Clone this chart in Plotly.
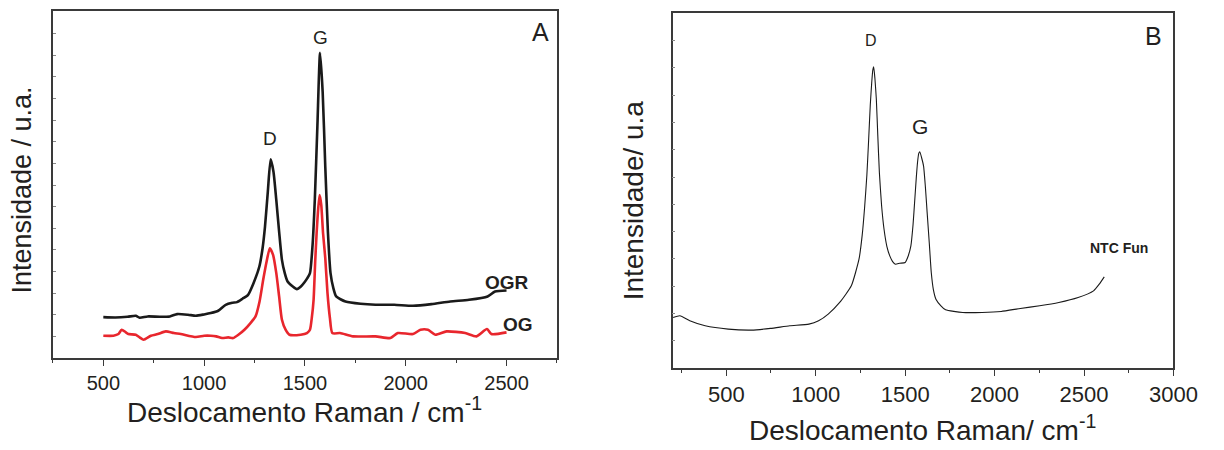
import plotly.graph_objects as go

# ---------------- Panel A data (Raman shift cm-1, intensity a.u.) ----------------
ogr_x = [500, 560, 620, 661, 680, 720, 780, 830, 866, 920, 959, 1000, 1033, 1070, 1107, 1140,
         1163, 1190, 1218, 1245, 1274, 1290, 1302, 1316, 1330, 1344, 1358, 1372, 1386, 1400,
         1414, 1440, 1460, 1480, 1497, 1512, 1525, 1538, 1549, 1562, 1575, 1588, 1601, 1614,
         1627, 1641, 1655, 1701, 1776, 1850, 1943, 2036, 2128, 2221, 2314, 2406, 2443, 2500]
ogr_y = [123, 122, 124, 127, 121, 125, 124, 125, 132, 130, 127, 131, 135, 142, 160, 166,
         168, 178, 190, 225, 275, 330, 395, 500, 597, 560, 475, 380, 295, 255,
         230, 215, 207, 215, 227, 240, 255, 340, 475, 700, 917, 800, 575, 380,
         255, 210, 185, 170, 163, 160, 160, 157, 162, 170, 175, 185, 200, 203]

og_x = [500, 550, 575, 591, 610, 624, 661, 680, 700, 736, 770, 810, 850, 884, 959, 1000,
        1033, 1060, 1089, 1120, 1144, 1170, 1200, 1230, 1255, 1275, 1293, 1310, 1326, 1342,
        1358, 1372, 1386, 1404, 1423, 1479, 1510, 1525, 1534, 1543, 1551, 1558, 1566, 1573,
        1581, 1590, 1601, 1612, 1624, 1636, 1674, 1739, 1850, 1924, 1961, 2036, 2073, 2110,
        2147, 2203, 2295, 2351, 2403, 2425, 2500]
og_y = [67, 67, 72, 85, 78, 72, 70, 62, 55, 67, 72, 80, 75, 72, 63, 67,
        67, 65, 60, 62, 60, 70, 85, 105, 125, 170, 235, 290, 330, 310,
        255, 185, 115, 85, 70, 70, 75, 85, 120, 175, 290, 375, 450, 490,
        460, 375, 300, 195, 120, 75, 75, 65, 65, 60, 75, 72, 85, 85,
        70, 80, 75, 65, 87, 72, 77]

# ---------------- Panel B data ----------------
ntc_x = [203, 241, 296, 382, 511, 640, 747, 855, 962, 1016, 1070, 1134, 1199, 1242, 1260,
         1274, 1286, 1296, 1305, 1313, 1319, 1324, 1331, 1339, 1347, 1356, 1368, 1382, 1398,
         1414, 1430, 1446, 1470, 1500, 1516, 1532, 1544, 1554, 1562, 1569, 1576, 1582, 1592,
         1603, 1613, 1623, 1635, 1646, 1658, 1672, 1700, 1726, 1822, 1930, 2037, 2144, 2252,
         2359, 2467, 2553, 2585, 2613]
ntc_y = [152, 157, 142, 127, 117, 114, 119, 127, 132, 142, 162, 197, 247, 327, 400,
         487, 580, 687, 790, 857, 895, 905, 870, 807, 700, 587, 490, 417, 365,
         337, 320, 312, 315, 317, 335, 367, 430, 507, 570, 617, 645, 650, 632,
         607, 545, 467, 375, 287, 235, 207, 187, 175, 167, 167, 170, 179, 187,
         197, 212, 232, 252, 274]

xticks_a = [500, 1000, 1500, 2000, 2500]
xticks_b = [500, 1000, 1500, 2000, 2500, 3000]

ink = "#231f20"
axis_col = "#3a3a3a"
red = "#e8262d"
font = "Liberation Sans, Arial"

fig = go.Figure()
fig.add_trace(go.Scatter(x=ogr_x, y=ogr_y, mode="lines", line=dict(color="#1a1a1a", width=2.6, shape="spline", smoothing=0.6),
                         xaxis="x", yaxis="y", showlegend=False, hoverinfo="skip"))
fig.add_trace(go.Scatter(x=og_x, y=og_y, mode="lines", line=dict(color=red, width=2.6, shape="spline", smoothing=0.6),
                         xaxis="x", yaxis="y", showlegend=False, hoverinfo="skip"))
fig.add_trace(go.Scatter(x=ntc_x, y=ntc_y, mode="lines", line=dict(color="#1a1a1a", width=1.1, shape="spline", smoothing=0.5),
                         xaxis="x2", yaxis="y2", showlegend=False, hoverinfo="skip"))

xa_common = dict(showgrid=False, zeroline=False, showline=True, linecolor=axis_col, linewidth=1.5,
                 mirror=True, ticks="outside", ticklen=6, tickwidth=1.2, tickcolor=axis_col,
                 minor=dict(ticks="outside", ticklen=3, tickwidth=1, tickcolor=axis_col, dtick=250))
ya_common = dict(showgrid=False, zeroline=False, showline=True, linecolor=axis_col, linewidth=1.5,
                 mirror=True, ticks="inside", ticklen=3, tickwidth=1, tickcolor="#888888",
                 showticklabels=False)

fig.update_layout(
    width=1224, height=450, margin=dict(l=0, r=0, t=0, b=0),
    paper_bgcolor="white", plot_bgcolor="white",
    xaxis=dict(domain=[0.0441, 0.4641], range=[250, 2750], tickvals=xticks_a, anchor="y",
               tickfont=dict(family=font, color=ink, size=20), **xa_common),
    yaxis=dict(domain=[0.2044, 0.9756], range=[0, 1043], dtick=65, anchor="x", **ya_common),
    xaxis2=dict(domain=[0.5605, 0.9779], range=[200, 3000], tickvals=xticks_b, anchor="y2",
                tickfont=dict(family=font, color=ink, size=22), **xa_common),
    yaxis2=dict(domain=[0.1822, 0.9711], range=[0, 1067], dtick=82, anchor="x2", **ya_common),
)


def lab(x, y, text, size, ref=None, angle=0, yanchor="middle"):
    d = dict(x=x, y=y, text=text, showarrow=False, xanchor="center", yanchor=yanchor,
             font=dict(size=size, color=ink, family=font), textangle=angle)
    if ref is None:
        d.update(xref="paper", yref="paper")
    else:
        d.update(xref="x" + ref, yref="y" + ref)
    return d


ann = [
    # panel A
    lab(2667, 980, "A", 25, ""),
    lab(1577, 963, "G", 19, ""),
    lab(1326, 660, "D", 19, ""),
    lab(2503, 227, "<b>OGR</b>", 19, ""),
    lab(2555, 100, "<b>OG</b>", 19, ""),
    # panel B
    lab(2886, 997, "B", 25, "2"),
    lab(1311, 985, "D", 16, "2"),
    lab(1581, 727, "G", 21, "2"),
    lab(2697, 362, "<b>NTC Fun</b>", 14, "2"),
    # axis titles
    lab(311 / 1224, 1 - 410 / 450, "Deslocamento Raman / cm<sup>-1</sup>", 28),
    lab(22 / 1224, 1 - 190 / 450, "Intensidade / u.a.", 27, angle=-90),
    lab(941 / 1224, 0.004, "Deslocamento Raman/ cm<sup>-1</sup>", 28, yanchor="bottom"),
    lab(646 / 1224, 1 - 200 / 450, "Intensidade/ u.a", 28, angle=-90),
]
fig.update_layout(annotations=ann)

fig.write_html("out.html")
